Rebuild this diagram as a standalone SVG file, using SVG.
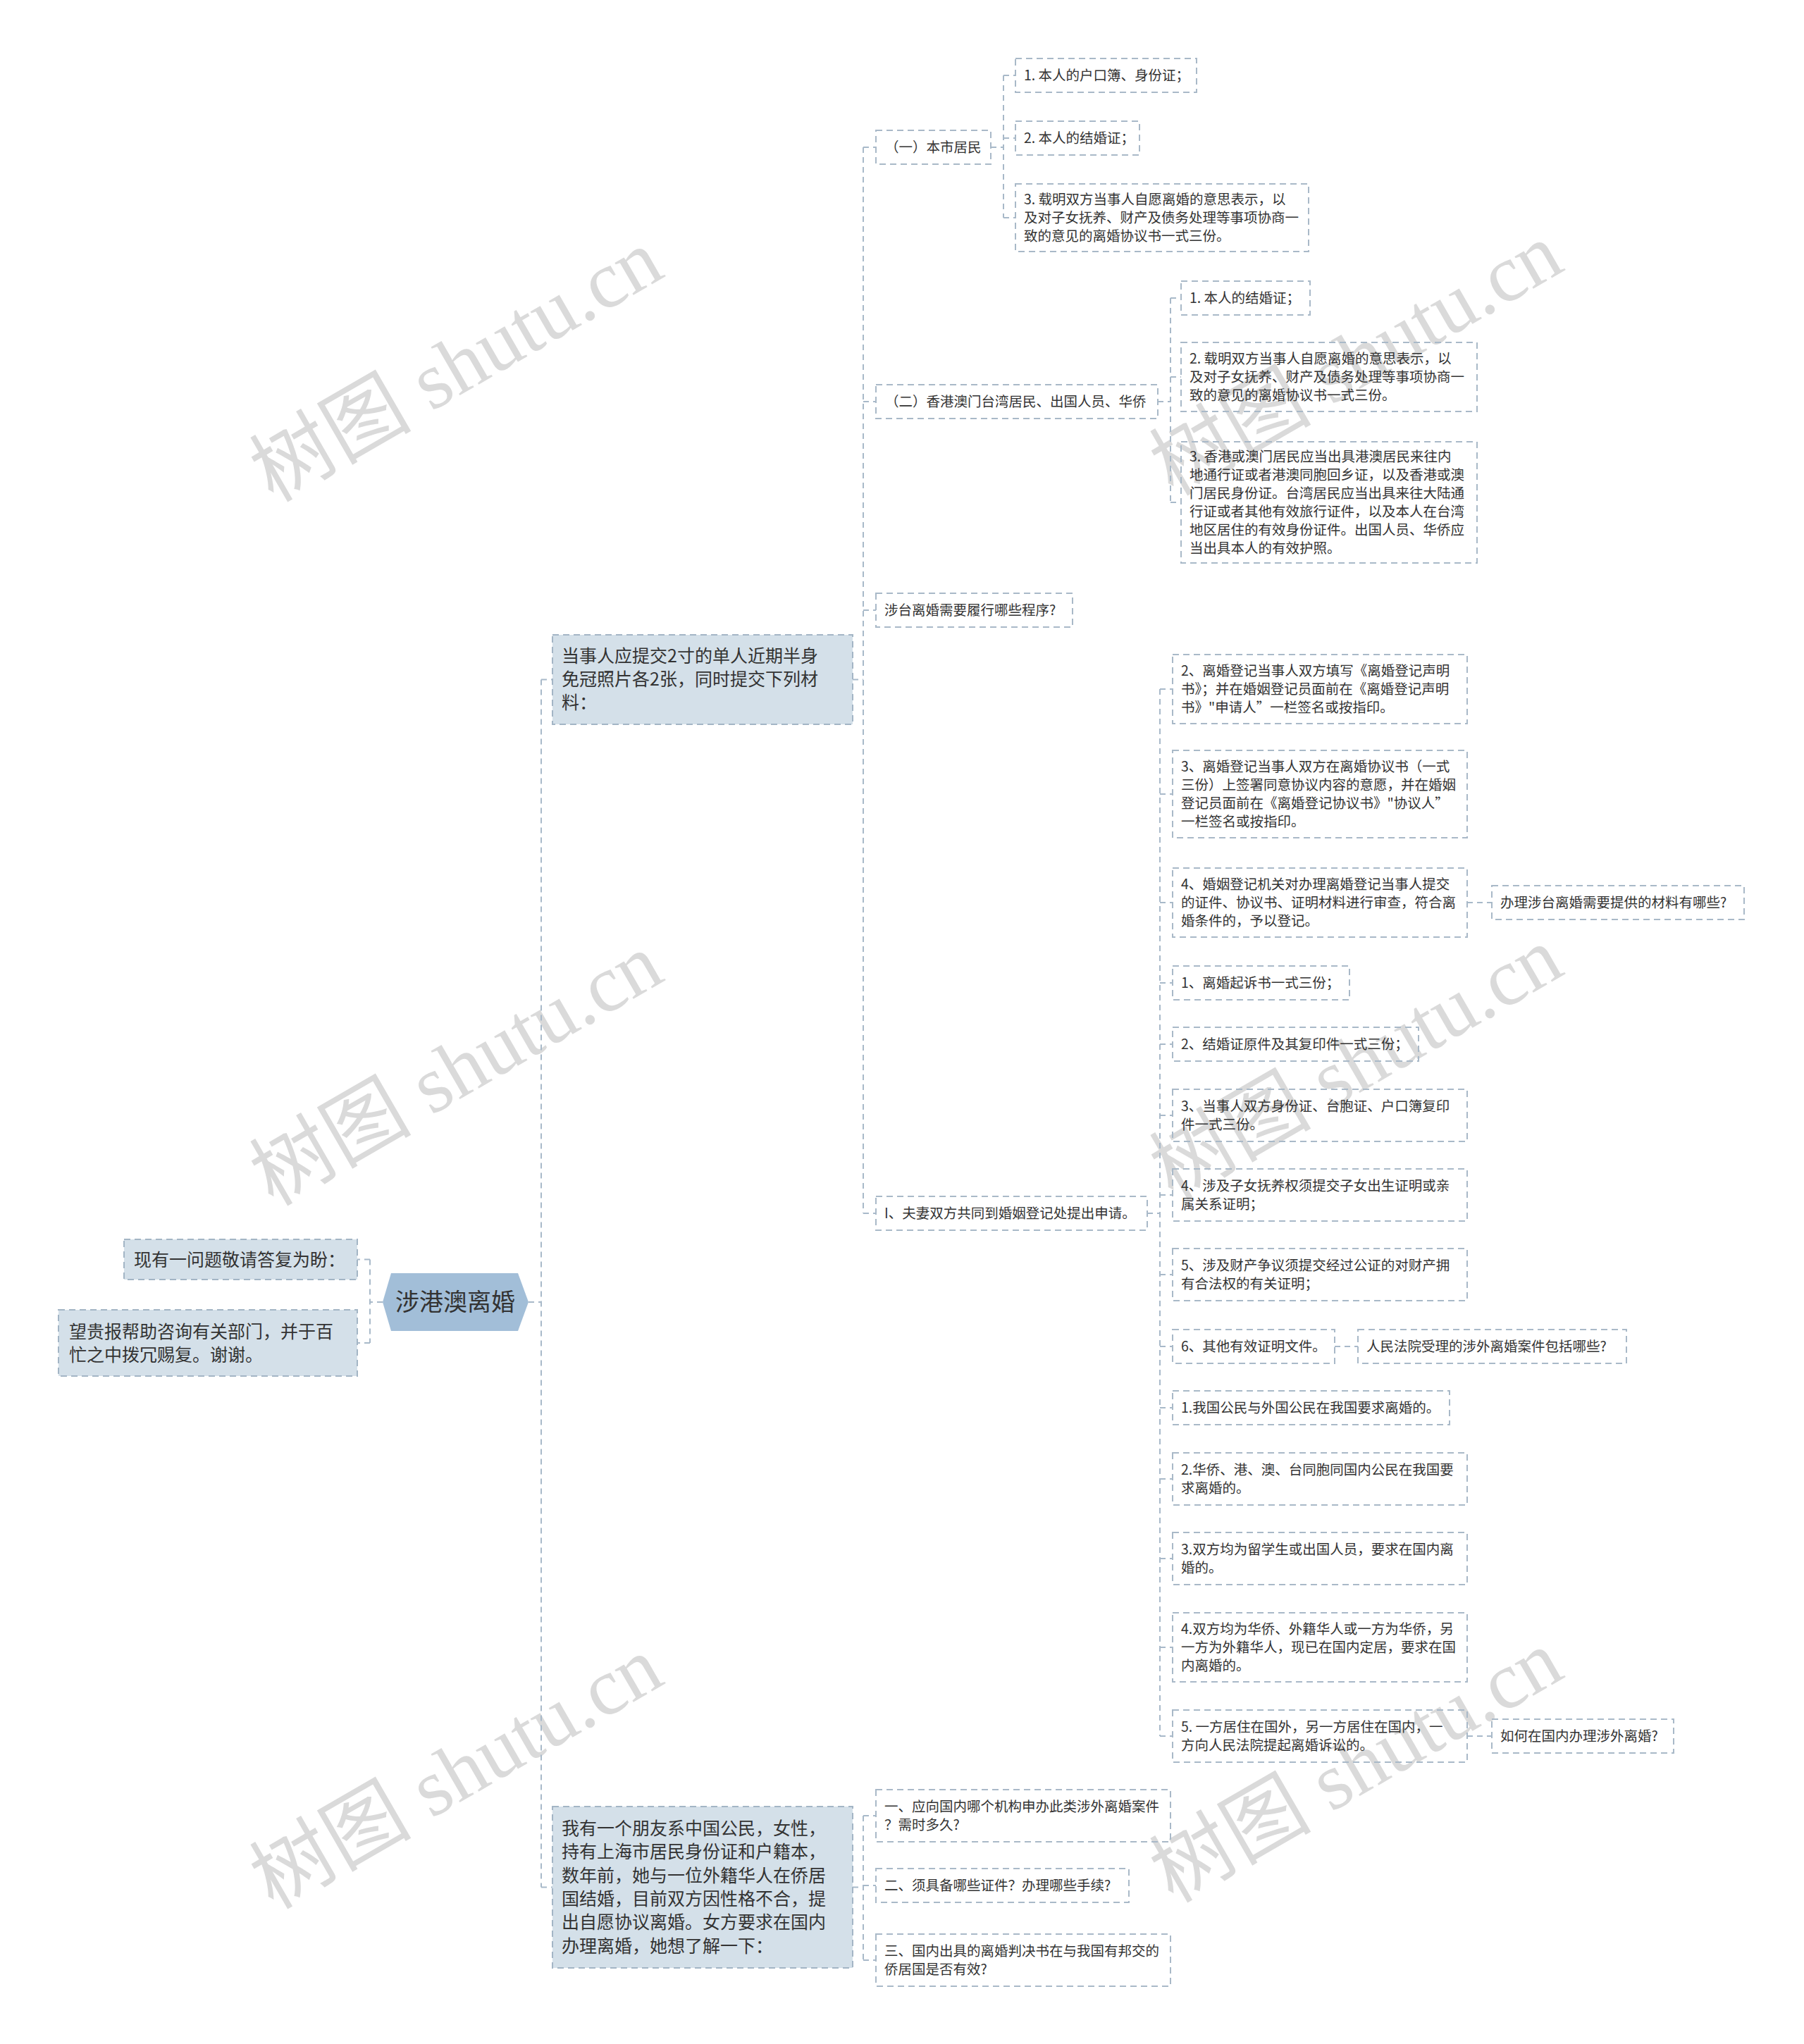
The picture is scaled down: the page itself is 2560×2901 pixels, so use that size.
<svg xmlns="http://www.w3.org/2000/svg" width="2560" height="2901" viewBox="0 0 2560 2901">
<style>
.bg{fill:#ffffff}
.wm{font-family:"Liberation Serif","Noto Sans CJK SC",serif;font-size:115px;fill:#dadada}
.conn path{fill:none;stroke:#a8b9c9;stroke-width:2;stroke-dasharray:8 6}
.leaf rect{fill:none;stroke:#a9b9c8;stroke-width:2;stroke-dasharray:9 6}
.main rect{fill:#d4e0e9;stroke:#a3b5c5;stroke-width:2;stroke-dasharray:9 6}
.root polygon{fill:#a2bed8;stroke:none}
text{font-family:"Noto Sans CJK SC","Noto Sans",sans-serif;fill:#333333}
.t{font-size:19.5px}
.m{font-size:25px}
.r{font-size:34px}
</style>
<rect class="bg" x="0" y="0" width="2560" height="2901"/>
<g id="watermarks">
<text class="wm" x="647" y="558" text-anchor="middle" transform="rotate(-30 647 518)">树图 shutu.cn</text>
<text class="wm" x="647" y="1557" text-anchor="middle" transform="rotate(-30 647 1517)">树图 shutu.cn</text>
<text class="wm" x="647" y="2555" text-anchor="middle" transform="rotate(-30 647 2515)">树图 shutu.cn</text>
<text class="wm" x="1924" y="549" text-anchor="middle" transform="rotate(-30 1924 509)">树图 shutu.cn</text>
<text class="wm" x="1924" y="1548" text-anchor="middle" transform="rotate(-30 1924 1508)">树图 shutu.cn</text>
<text class="wm" x="1924" y="2546" text-anchor="middle" transform="rotate(-30 1924 2506)">树图 shutu.cn</text>
</g>
<g id="connectors" class="conn">
<path d="M543,1848 H525 M525,1787.5 V1906 M525,1787.5 H507 M525,1906 H507"/>
<path d="M750,1848 H768 M768,964.5 V2678.5 M768,964.5 H784 M768,2678.5 H784"/>
<path d="M1210,964.5 H1225 M1225,209 V1722 M1225,209 H1243 M1225,570 H1243 M1225,866 H1243 M1225,1722 H1243"/>
<path d="M1406,209 H1424 M1424,107 V309 M1424,107 H1441 M1424,196 H1441 M1424,309 H1441"/>
<path d="M1643,570 H1661 M1661,423 V713 M1661,423 H1676 M1661,535 H1676 M1661,713 H1676"/>
<path d="M1628,1722 H1646 M1646,978 V2464 M1646,978 H1664 M1646,1127 H1664 M1646,1281 H1664 M1646,1395 H1664 M1646,1482 H1664 M1646,1583 H1664 M1646,1696 H1664 M1646,1809 H1664 M1646,1911 H1664 M1646,1998 H1664 M1646,2099 H1664 M1646,2212 H1664 M1646,2338 H1664 M1646,2464 H1664"/>
<path d="M2082,1281 H2117 M1894,1911 H1927 M2082,2464 H2117"/>
<path d="M1210,2678.5 H1225 M1225,2577 V2782 M1225,2577 H1243 M1225,2676 H1243 M1225,2782 H1243"/>
</g>
<g id="root" class="root">
<polygon points="543,1848 555,1807 735,1807 750,1848 735,1889 555,1889"/>
<text class="r" x="646" y="1860" text-anchor="middle">涉港澳离婚</text>
</g>
<g id="left1" class="main">
<rect x="176" y="1759" width="331" height="57"/>
<text class="m" x="190" y="1796.5">现有一问题敬请答复为盼：</text>
</g>
<g id="left2" class="main">
<rect x="83" y="1859" width="424" height="94"/>
<text class="m"><tspan x="98" y="1898.5">望贵报帮助咨询有关部门，并于百</tspan><tspan x="98" y="1932">忙之中拨冗赐复。谢谢。</tspan></text>
</g>
<g id="nodeA" class="main">
<rect x="784" y="901" width="426" height="127"/>
<text class="m"><tspan x="797" y="940">当事人应提交2寸的单人近期半身</tspan><tspan x="797" y="973">免冠照片各2张，同时提交下列材</tspan><tspan x="797" y="1006">料：</tspan></text>
</g>
<g id="nodeB" class="main">
<rect x="784" y="2564" width="426" height="229"/>
<text class="m"><tspan x="797" y="2604">我有一个朋友系中国公民，女性，</tspan><tspan x="797" y="2637">持有上海市居民身份证和户籍本，</tspan><tspan x="797" y="2671">数年前，她与一位外籍华人在侨居</tspan><tspan x="797" y="2704">国结婚，目前双方因性格不合，提</tspan><tspan x="797" y="2737">出自愿协议离婚。女方要求在国内</tspan><tspan x="797" y="2771">办理离婚，她想了解一下：</tspan></text>
</g>
<g id="a1" class="leaf"><rect x="1243" y="185" width="163" height="48"/><text class="t" x="1256" y="216">（一）本市居民</text></g>
<g id="a1c1" class="leaf"><rect x="1441" y="83" width="257" height="48"/><text class="t" x="1453" y="114">1. 本人的户口簿、身份证；</text></g>
<g id="a1c2" class="leaf"><rect x="1441" y="172" width="176" height="48"/><text class="t" x="1453" y="203">2. 本人的结婚证；</text></g>
<g id="a1c3" class="leaf"><rect x="1441" y="261" width="416" height="96"/><text class="t"><tspan x="1453" y="290">3. 载明双方当事人自愿离婚的意思表示，以</tspan><tspan x="1453" y="316">及对子女抚养、财产及债务处理等事项协商一</tspan><tspan x="1453" y="342">致的意见的离婚协议书一式三份。</tspan></text></g>
<g id="a2" class="leaf"><rect x="1243" y="546" width="400" height="48"/><text class="t" x="1256" y="577">（二）香港澳门台湾居民、出国人员、华侨</text></g>
<g id="a2c1" class="leaf"><rect x="1676" y="399" width="183" height="48"/><text class="t" x="1688" y="430">1. 本人的结婚证；</text></g>
<g id="a2c2" class="leaf"><rect x="1676" y="486" width="420" height="98"/><text class="t"><tspan x="1688" y="516">2. 载明双方当事人自愿离婚的意思表示，以</tspan><tspan x="1688" y="542">及对子女抚养、财产及债务处理等事项协商一</tspan><tspan x="1688" y="568">致的意见的离婚协议书一式三份。</tspan></text></g>
<g id="a2c3" class="leaf"><rect x="1676" y="627" width="420" height="172"/><text class="t"><tspan x="1688" y="655">3. 香港或澳门居民应当出具港澳居民来往内</tspan><tspan x="1688" y="681">地通行证或者港澳同胞回乡证，以及香港或澳</tspan><tspan x="1688" y="707">门居民身份证。台湾居民应当出具来往大陆通</tspan><tspan x="1688" y="733">行证或者其他有效旅行证件，以及本人在台湾</tspan><tspan x="1688" y="759">地区居住的有效身份证件。出国人员、华侨应</tspan><tspan x="1688" y="785">当出具本人的有效护照。</tspan></text></g>
<g id="a3" class="leaf"><rect x="1243" y="842" width="279" height="48"/><text class="t" x="1255" y="873">涉台离婚需要履行哪些程序?</text></g>
<g id="a4" class="leaf"><rect x="1243" y="1698" width="385" height="48"/><text class="t" x="1255" y="1729">I、夫妻双方共同到婚姻登记处提出申请。</text></g>
<g id="e1" class="leaf"><rect x="1664" y="929" width="418" height="98"/><text class="t"><tspan x="1676" y="959">2、离婚登记当事人双方填写《离婚登记声明</tspan><tspan x="1676" y="985">书》；并在婚姻登记员面前在《离婚登记声明</tspan><tspan x="1676" y="1011">书》"申请人”一栏签名或按指印。</tspan></text></g>
<g id="e2" class="leaf"><rect x="1664" y="1065" width="418" height="124"/><text class="t"><tspan x="1676" y="1095">3、离婚登记当事人双方在离婚协议书（一式</tspan><tspan x="1676" y="1121">三份）上签署同意协议内容的意愿，并在婚姻</tspan><tspan x="1676" y="1147">登记员面前在《离婚登记协议书》"协议人”</tspan><tspan x="1676" y="1173">一栏签名或按指印。</tspan></text></g>
<g id="e3" class="leaf"><rect x="1664" y="1232" width="418" height="98"/><text class="t"><tspan x="1676" y="1262">4、婚姻登记机关对办理离婚登记当事人提交</tspan><tspan x="1676" y="1288">的证件、协议书、证明材料进行审查，符合离</tspan><tspan x="1676" y="1314">婚条件的，予以登记。</tspan></text></g>
<g id="e3c" class="leaf"><rect x="2117" y="1257" width="358" height="48"/><text class="t" x="2129" y="1288">办理涉台离婚需要提供的材料有哪些?</text></g>
<g id="e4" class="leaf"><rect x="1664" y="1371" width="251" height="48"/><text class="t" x="1676" y="1402">1、离婚起诉书一式三份；</text></g>
<g id="e5" class="leaf"><rect x="1664" y="1458" width="349" height="48"/><text class="t" x="1676" y="1489">2、结婚证原件及其复印件一式三份；</text></g>
<g id="e6" class="leaf"><rect x="1664" y="1546" width="418" height="74"/><text class="t"><tspan x="1676" y="1577">3、当事人双方身份证、台胞证、户口簿复印</tspan><tspan x="1676" y="1603">件一式三份。</tspan></text></g>
<g id="e7" class="leaf"><rect x="1664" y="1659" width="418" height="74"/><text class="t"><tspan x="1676" y="1690">4、涉及子女抚养权须提交子女出生证明或亲</tspan><tspan x="1676" y="1716">属关系证明；</tspan></text></g>
<g id="e8" class="leaf"><rect x="1664" y="1772" width="418" height="74"/><text class="t"><tspan x="1676" y="1803">5、涉及财产争议须提交经过公证的对财产拥</tspan><tspan x="1676" y="1829">有合法权的有关证明；</tspan></text></g>
<g id="e9" class="leaf"><rect x="1664" y="1887" width="230" height="48"/><text class="t" x="1676" y="1918">6、其他有效证明文件。</text></g>
<g id="e9c" class="leaf"><rect x="1927" y="1887" width="381" height="48"/><text class="t" x="1939" y="1918">人民法院受理的涉外离婚案件包括哪些?</text></g>
<g id="e10" class="leaf"><rect x="1664" y="1974" width="393" height="48"/><text class="t" x="1676" y="2005">1.我国公民与外国公民在我国要求离婚的。</text></g>
<g id="e11" class="leaf"><rect x="1664" y="2062" width="418" height="74"/><text class="t"><tspan x="1676" y="2093">2.华侨、港、澳、台同胞同国内公民在我国要</tspan><tspan x="1676" y="2119">求离婚的。</tspan></text></g>
<g id="e12" class="leaf"><rect x="1664" y="2175" width="418" height="74"/><text class="t"><tspan x="1676" y="2206">3.双方均为留学生或出国人员，要求在国内离</tspan><tspan x="1676" y="2232">婚的。</tspan></text></g>
<g id="e13" class="leaf"><rect x="1664" y="2289" width="418" height="98"/><text class="t"><tspan x="1676" y="2319">4.双方均为华侨、外籍华人或一方为华侨，另</tspan><tspan x="1676" y="2345">一方为外籍华人，现已在国内定居，要求在国</tspan><tspan x="1676" y="2371">内离婚的。</tspan></text></g>
<g id="e14" class="leaf"><rect x="1664" y="2427" width="418" height="74"/><text class="t"><tspan x="1676" y="2458">5. 一方居住在国外，另一方居住在国内，一</tspan><tspan x="1676" y="2484">方向人民法院提起离婚诉讼的。</tspan></text></g>
<g id="e14c" class="leaf"><rect x="2117" y="2440" width="258" height="48"/><text class="t" x="2129" y="2471">如何在国内办理涉外离婚?</text></g>
<g id="f1" class="leaf"><rect x="1243" y="2540" width="418" height="74"/><text class="t"><tspan x="1255" y="2571">一、应向国内哪个机构申办此类涉外离婚案件</tspan><tspan x="1255" y="2597">？需时多久?</tspan></text></g>
<g id="f2" class="leaf"><rect x="1243" y="2652" width="359" height="48"/><text class="t" x="1255" y="2683">二、须具备哪些证件？办理哪些手续?</text></g>
<g id="f3" class="leaf"><rect x="1243" y="2745" width="418" height="74"/><text class="t"><tspan x="1255" y="2776">三、国内出具的离婚判决书在与我国有邦交的</tspan><tspan x="1255" y="2802">侨居国是否有效?</tspan></text></g>
</svg>
